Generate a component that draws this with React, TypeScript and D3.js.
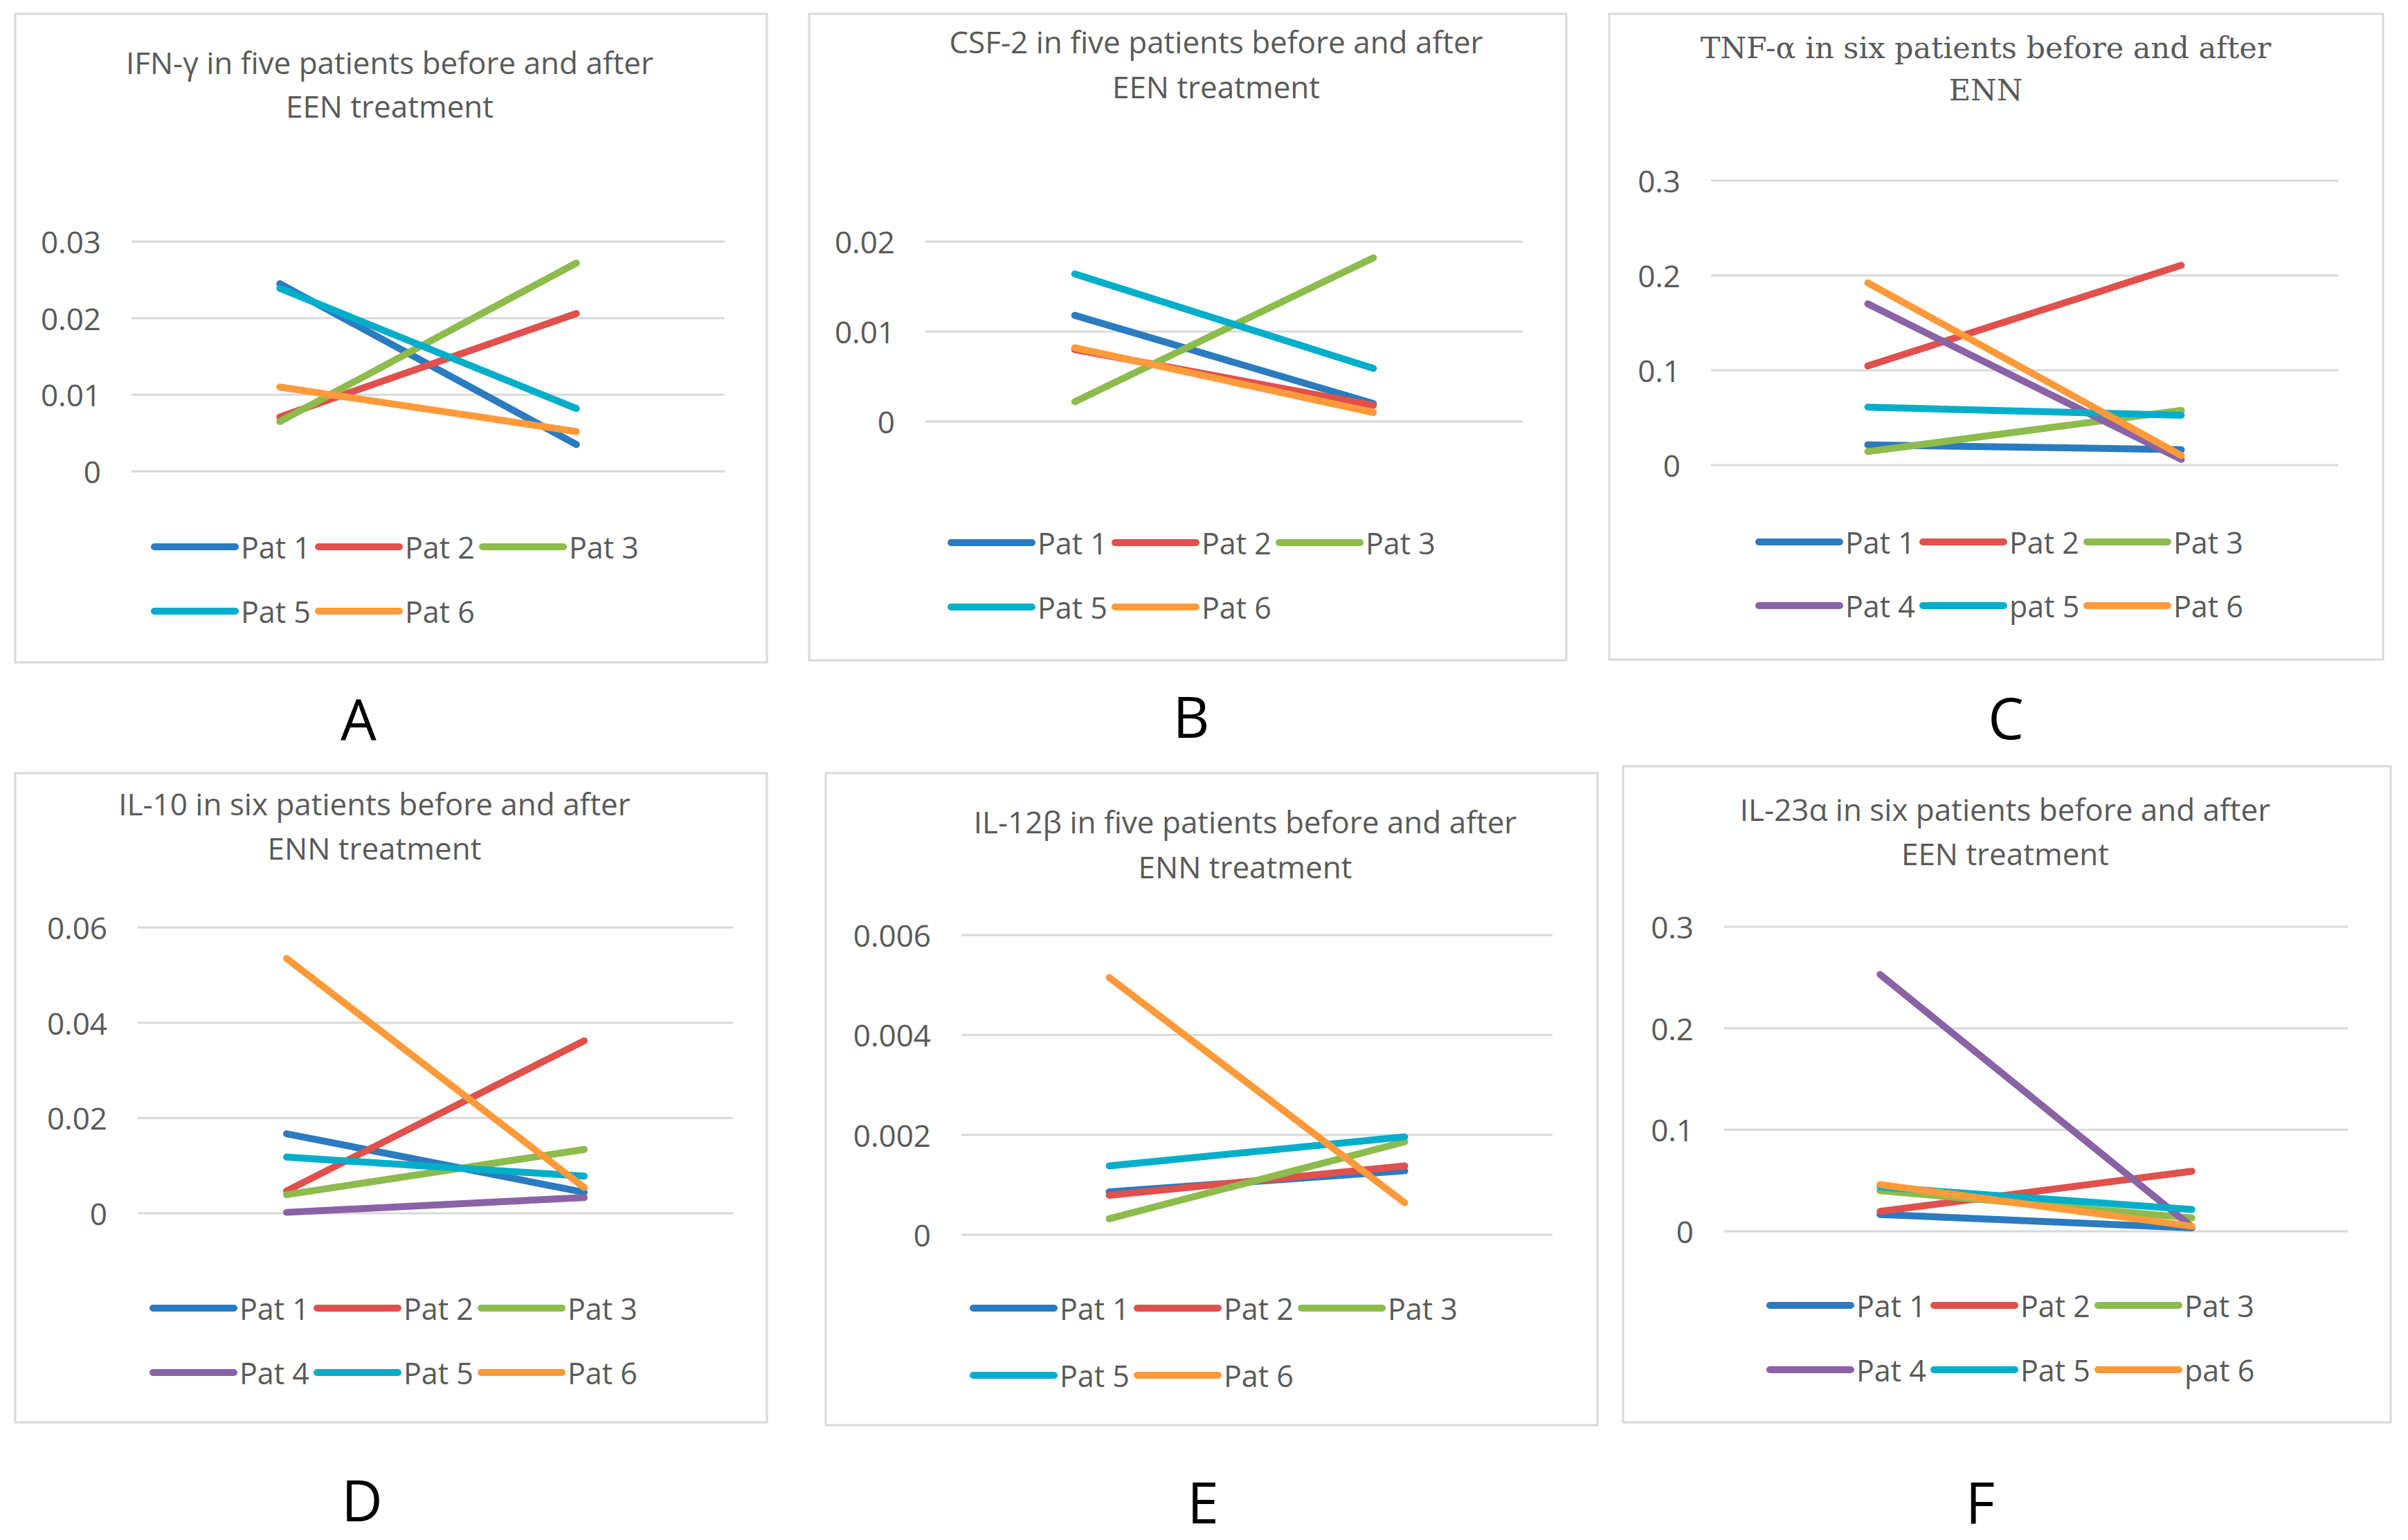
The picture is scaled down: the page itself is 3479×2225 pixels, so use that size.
import * as d3 from "d3";

// ---- data ----
const timepoints = ["Before", "After"];

const titlesA = ["IFN-γ in five patients before and after", "EEN treatment"];
const patientsA = ["Pat 1", "Pat 2", "Pat 3", "Pat 5", "Pat 6"];
const beforeA = [0.0245, 0.0071, 0.0065, 0.0239, 0.011];
const afterA = [0.0035, 0.0206, 0.0272, 0.0082, 0.0052];
const ticksA = [0, 0.01, 0.02, 0.03];

const titlesB = ["CSF-2 in five patients before and after", "EEN treatment"];
const patientsB = ["Pat 1", "Pat 2", "Pat 3", "Pat 5", "Pat 6"];
const beforeB = [0.0118, 0.008, 0.0022, 0.0164, 0.0082];
const afterB = [0.002, 0.0018, 0.0182, 0.0059, 0.001];
const ticksB = [0, 0.01, 0.02];

const titlesC = ["TNF-α in six patients before and after", "ENN"];
const patientsC = ["Pat 1", "Pat 2", "Pat 3", "Pat 4", "pat 5", "Pat 6"];
const beforeC = [0.0214, 0.1046, 0.0143, 0.17, 0.0612, 0.1923];
const afterC = [0.0163, 0.2107, 0.0577, 0.006, 0.0526, 0.0102];
const ticksC = [0, 0.1, 0.2, 0.3];

const titlesD = ["IL-10 in six patients before and after", "ENN treatment"];
const patientsD = ["Pat 1", "Pat 2", "Pat 3", "Pat 4", "Pat 5", "Pat 6"];
const beforeD = [0.0167, 0.0047, 0.0039, 0.0002, 0.0118, 0.0535];
const afterD = [0.0044, 0.0362, 0.0134, 0.0033, 0.0078, 0.0054];
const ticksD = [0, 0.02, 0.04, 0.06];

const titlesE = ["IL-12β in five patients before and after", "ENN treatment"];
const patientsE = ["Pat 1", "Pat 2", "Pat 3", "Pat 5", "Pat 6"];
const beforeE = [0.00086, 0.00079, 0.00032, 0.00138, 0.00515];
const afterE = [0.00128, 0.00138, 0.00186, 0.00196, 0.00064];
const ticksE = [0, 0.002, 0.004, 0.006];

const titlesF = ["IL-23α in six patients before and after", "EEN treatment"];
const patientsF = ["Pat 1", "Pat 2", "Pat 3", "Pat 4", "Pat 5", "pat 6"];
const beforeF = [0.0166, 0.0196, 0.04, 0.253, 0.0436, 0.046];
const afterF = [0.0034, 0.0592, 0.0132, 0.0044, 0.0215, 0.005];
const ticksF = [0, 0.1, 0.2, 0.3];

const letters = ["A", "B", "C", "D", "E", "F"];

// colour by patient number
const patientColors: Record<string, string> = {
  "1": "#2a7bc0",
  "2": "#e0504c",
  "3": "#8dbb4c",
  "4": "#8a62a6",
  "5": "#00aeca",
  "6": "#ff9a3a",
};

// ---- layout (pixels) ----
const W = 3479;
const H = 2225;
const FONT = "'Open Sans', 'Liberation Sans', sans-serif";
const SERIF = "'DejaVu Serif', 'Liberation Serif', serif";
const TEXT = "#595959";
const GRID = "#d9d9d9";

// letter: [x, baseline]
const layouts = [
  { box: [22, 20, 1108, 957], plot: [190, 1047, 349, 681], title: [563, 107, 170], legend: [223, 790, 883], letter: [518, 1070], serif: false },
  { box: [1169, 20, 2263, 954], plot: [1337, 2200, 349, 609], title: [1757, 77, 142], legend: [1374, 784, 877], letter: [1721, 1066], serif: false },
  { box: [2325, 20, 3443, 953], plot: [2472, 3378, 261, 672], title: [2869, 84, 145], legend: [2541, 783, 875], letter: [2898, 1068], serif: true },
  { box: [22, 1117, 1108, 2055], plot: [199, 1059, 1340, 1753], title: [541, 1178, 1242], legend: [221, 1890, 1983], letter: [523, 2198], serif: false },
  { box: [1193, 1117, 2308, 2059], plot: [1389, 2243, 1351, 1784], title: [1799, 1204, 1269], legend: [1406, 1890, 1987], letter: [1738, 2201], serif: false },
  { box: [2345, 1107, 3454, 2055], plot: [2491, 3392, 1339, 1779], title: [2897, 1186, 1250], legend: [2557, 1886, 1979], letter: [2861, 2201], serif: false },
];

const panels = [
  { titles: titlesA, patients: patientsA, before: beforeA, after: afterA, ticks: ticksA },
  { titles: titlesB, patients: patientsB, before: beforeB, after: afterB, ticks: ticksB },
  { titles: titlesC, patients: patientsC, before: beforeC, after: afterC, ticks: ticksC },
  { titles: titlesD, patients: patientsD, before: beforeD, after: afterD, ticks: ticksD },
  { titles: titlesE, patients: patientsE, before: beforeE, after: afterE, ticks: ticksE },
  { titles: titlesF, patients: patientsF, before: beforeF, after: afterF, ticks: ticksF },
];

const colorOf = (name: string) => patientColors[name.slice(-1)];

function Panel({ idx }: { idx: number }) {
  const p = panels[idx];
  const l = layouts[idx];
  const [bx0, by0, bx1, by1] = l.box;
  const [px0, px1, pyTop, pyZero] = l.plot;

  const x = d3.scaleBand<string>().domain(timepoints).range([px0, px1]).padding(0);
  const y = d3
    .scaleLinear()
    .domain([0, p.ticks[p.ticks.length - 1]])
    .range([pyZero, pyTop]);

  const line = d3
    .line<[string, number]>()
    .x((d) => (x(d[0]) as number) + x.bandwidth() / 2)
    .y((d) => y(d[1]));

  const legendLine = 117;
  const legendPitch = 237;

  return (
    <g>
      <rect
        x={bx0}
        y={by0}
        width={bx1 - bx0}
        height={by1 - by0}
        fill="#fff"
        stroke={GRID}
        strokeWidth={3}
      />
      {p.titles.map((t, i) => (
        <text
          key={i}
          x={l.title[0]}
          y={l.title[1 + i]}
          textAnchor="middle"
          fontFamily={l.serif ? SERIF : FONT}
          fontSize={l.serif ? 43 : 44}
          fill={TEXT}
        >
          {t}
        </text>
      ))}
      {p.ticks.map((t) => (
        <g key={t}>
          <line x1={px0} x2={px1} y1={y(t)} y2={y(t)} stroke={GRID} strokeWidth={3} />
          <text
            x={px0 - 44}
            y={y(t)}
            textAnchor="end"
            dominantBaseline="central"
            fontFamily={FONT}
            fontSize={44}
            fill={TEXT}
          >
            {t === 0 ? "0" : String(t)}
          </text>
        </g>
      ))}
      {p.patients.map((name, i) => (
        <path
          key={name}
          d={
            line([
              [timepoints[0], p.before[i]],
              [timepoints[1], p.after[i]],
            ]) as string
          }
          fill="none"
          stroke={colorOf(name)}
          strokeWidth={10}
          strokeLinecap="round"
        />
      ))}
      {p.patients.map((name, i) => {
        const lx = l.legend[0] + (i % 3) * legendPitch;
        const ly = l.legend[1 + Math.floor(i / 3)];
        return (
          <g key={"lg" + name}>
            <line
              x1={lx}
              x2={lx + legendLine}
              y1={ly}
              y2={ly}
              stroke={colorOf(name)}
              strokeWidth={10}
              strokeLinecap="round"
            />
            <text
              x={lx + legendLine + 8}
              y={ly}
              dominantBaseline="central"
              fontFamily={FONT}
              fontSize={43}
              fill={TEXT}
            >
              {name}
            </text>
          </g>
        );
      })}
      <text
        x={l.letter[0]}
        y={l.letter[1]}
        textAnchor="middle"
        fontFamily={FONT}
        fontSize={82}
        fill="#000"
      >
        {letters[idx]}
      </text>
    </g>
  );
}

export default function App() {
  return (
    <svg
      width={W}
      height={H}
      viewBox={`0 0 ${W} ${H}`}
      style={{ position: "absolute", left: 0, top: 0, background: "#fff" }}
    >
      <rect x={0} y={0} width={W} height={H} fill="#fff" />
      {panels.map((_, i) => (
        <Panel key={i} idx={i} />
      ))}
    </svg>
  );
}
